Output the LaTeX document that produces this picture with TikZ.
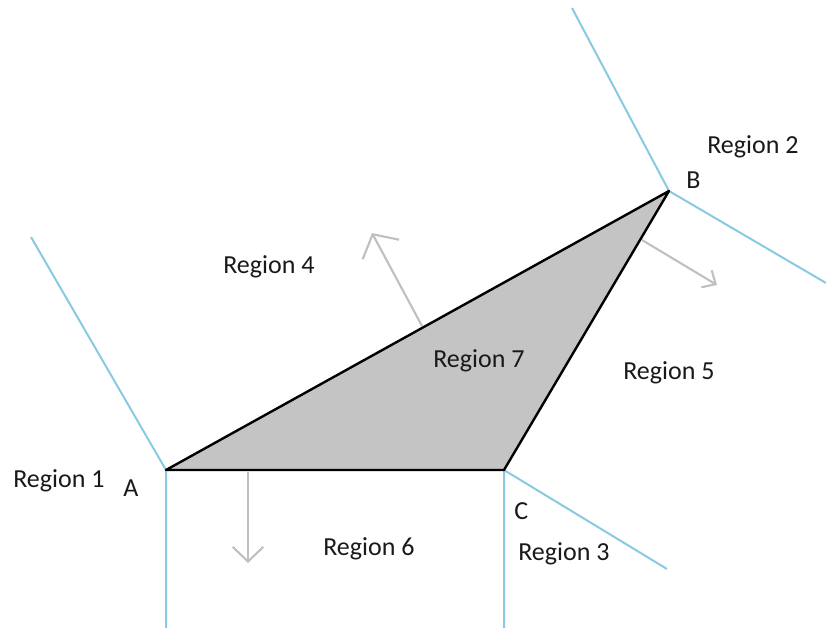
\documentclass[tikz,border=0pt]{standalone}
\usepackage{fontspec}
\setmainfont{Carlito}
\usetikzlibrary{arrows.meta}
\definecolor{regionblue}{RGB}{135,202,225}
\definecolor{arrowgray}{RGB}{192,192,192}
\definecolor{trifill}{RGB}{196,196,196}
\definecolor{labeltext}{RGB}{25,25,25}
\begin{document}
\begin{tikzpicture}[x=0.75pt,y=-0.75pt,
  boundary/.style={draw=regionblue,line width=1.5pt},
  normalarrow/.style={draw=arrowgray,line width=1.6pt},
  label/.style={anchor=base west,inner sep=0pt,text=labeltext,font=\fontsize{19.5}{23}\selectfont},
  edge/.style={draw=black,line width=1.8pt,line join=round}]
\useasboundingbox (0,0) rectangle (826,628);
% vertices
\coordinate (A) at (166,470);
\coordinate (B) at (669,191);
\coordinate (C) at (504,470);
% boundary ends
\coordinate (A1) at (31,237);
\coordinate (A2) at (166,628);
\coordinate (B1) at (572,8);
\coordinate (B2) at (826,283);
\coordinate (C1) at (504,628);
\coordinate (C2) at (667,569);
% arrows
\coordinate (nAB0) at (422,326);
\coordinate (nAB1) at (372,233);
\coordinate (nBC0) at (642,240);
\coordinate (nBC1) at (717,285);
\coordinate (nAC0) at (248,472);
\coordinate (nAC1) at (248,563);

\draw[boundary] (A1) -- (A) -- (A2);
\draw[boundary] (B1) -- (B) -- (B2);
\draw[boundary] (C1) -- (C) -- (C2);

\filldraw[fill=trifill,edge] (A) -- (B) -- (C) -- cycle;

\draw[normalarrow,-{Straight Barb[length=13pt,width=31pt,line width=1.6pt]}] (nAB0) -- (nAB1);
\draw[normalarrow,-{Straight Barb[length=8pt,width=15pt,line width=1.6pt]}] (nBC0) -- (nBC1);
\draw[normalarrow,-{Straight Barb[length=11pt,width=23pt,line width=1.6pt]}] (nAC0) -- (nAC1);

\node[label] (r1) at (13,487) {Region 1};
\node[label] (r2) at (707,153) {Region 2};
\node[label] (r3) at (518,560) {Region 3};
\node[label] (r4) at (223,273) {Region 4};
\node[label] (r5) at (623,379) {Region 5};
\node[label] (r6) at (323,555) {Region 6};
\node[label] (r7) at (433,367) {Region 7};
\node[label] (la) at (123,496) {A};
\node[label] (lb) at (686,188) {B};
\node[label] (lc) at (514,519) {C};
\end{tikzpicture}
\end{document}
